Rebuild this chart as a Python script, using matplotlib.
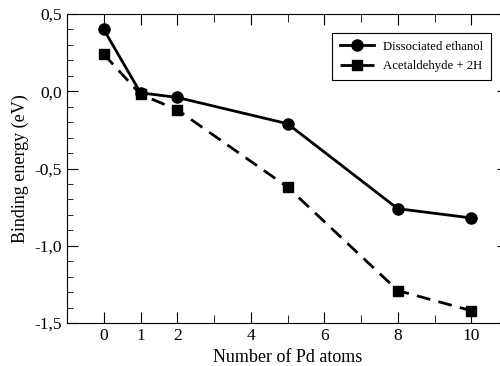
import matplotlib
matplotlib.use("Agg")
import matplotlib.pyplot as plt
from matplotlib.ticker import MultipleLocator, FixedLocator

plt.rcParams['font.family'] = 'Liberation Serif'

n_pd = [0, 1, 2, 5, 8, 10]
dissociated = [0.40, -0.01, -0.04, -0.21, -0.76, -0.82]
acetaldehyde = [0.24, -0.02, -0.12, -0.62, -1.29, -1.42]
xtick_labels = [0, 1, 2, 4, 6, 8, 10]

fig = plt.figure(figsize=(5, 3.66), dpi=100)
ax = fig.add_axes([67/500, 43/366, 441/500, 309/366])

ax.plot(n_pd, dissociated, color='k', linewidth=2, marker='o', markersize=8,
        label='Dissociated ethanol')
ax.plot(n_pd, acetaldehyde, color='k', linewidth=2, linestyle=(0, (5, 3)),
        marker='s', markersize=7, label='Acetaldehyde + 2H')

ax.set_xlim(-1, 11)
ax.set_ylim(-1.5, 0.5)
ax.xaxis.set_major_locator(FixedLocator(xtick_labels))
ax.xaxis.set_minor_locator(FixedLocator([3, 5, 7, 9]))
yt = [-1.5, -1.0, -0.5, 0.0, 0.5]
ax.set_yticks(yt)
ax.set_yticklabels([('%.1f' % v).replace('.', ',') for v in yt])
ax.yaxis.set_minor_locator(MultipleLocator(0.1))
ax.tick_params(which='both', direction='in', top=True, right=True, labelsize=12.5)
ax.tick_params(which='major', length=8)
ax.tick_params(which='minor', length=4)
ax.tick_params(axis='x', which='minor', length=6)

ax.set_xlabel('Number of Pd atoms', fontsize=13)
ax.set_ylabel('Binding energy (eV)', fontsize=13)

leg = ax.legend(loc='upper right', bbox_to_anchor=(0.961, 0.939), borderaxespad=0,
                fontsize=9.2, fancybox=False, edgecolor='k', framealpha=1,
                handlelength=2.7, handletextpad=0.7, labelspacing=0.6,
                borderpad=0.6)
leg.get_frame().set_linewidth(0.8)

fig.savefig('out.png', dpi=100)
